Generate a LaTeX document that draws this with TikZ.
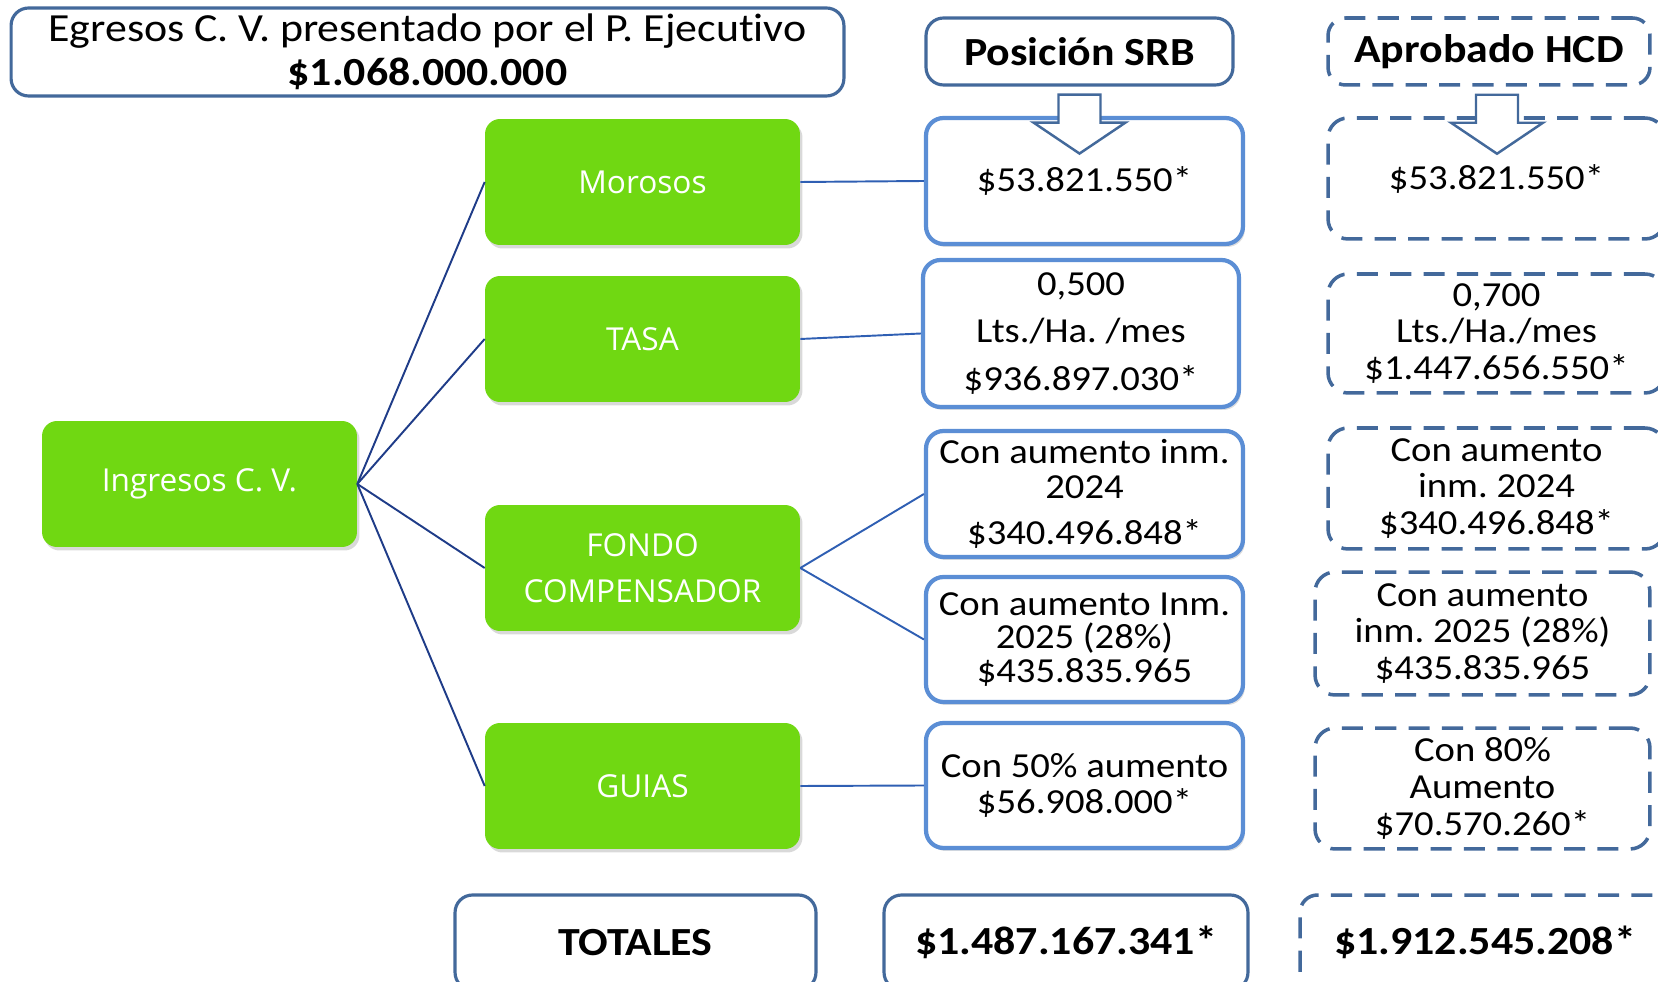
\documentclass[tikz,border=0pt]{standalone}
\usepackage{fontspec}
\setmainfont{Carlito}[FakeStretch=1.1, Ligatures=NoCommon]
\newfontfamily\rubrofont{Open Sans}
\usetikzlibrary{shadows,calc}

\definecolor{verde}{HTML}{70D812}
\definecolor{azul}{HTML}{43699B}
\definecolor{celeste}{HTML}{5B8ED5}
\definecolor{lineaosc}{HTML}{1F3C88}
\definecolor{linea}{HTML}{2F5FB3}

\begin{document}
\frenchspacing
\begin{tikzpicture}[x=0.02cm,y=-0.02cm,
    rubro/.style={fill=verde, rounded corners=0.3cm, text=white, align=center,
      font=\rubrofont\fontsize{18}{26}\selectfont, inner sep=0pt,
      minimum width=6.3cm, minimum height=2.52cm,
      drop shadow={opacity=0.3, shadow xshift=0.05cm, shadow yshift=-0.07cm}},
    srb/.style={draw=celeste, line width=2.4pt, fill=white, rounded corners=0.35cm,
      align=center, font=\fontsize{20}{20}\selectfont, inner sep=0pt,
      minimum width=6.34cm, minimum height=2.52cm,
      drop shadow={opacity=0.25, shadow xshift=0.04cm, shadow yshift=-0.06cm}},
    hcd/.style={draw=azul, line width=2pt, dash pattern=on 12pt off 7pt,
      rounded corners=0.4cm, align=center, font=\fontsize{20}{20}\selectfont,
      inner sep=0pt, minimum width=6.74cm, minimum height=2.42cm},
    titulo/.style={draw=azul, line width=1.8pt, rounded corners=0.35cm, fill=white,
      align=center, font=\bfseries\fontsize{22.7}{25}\selectfont, inner sep=0pt},
    rama/.style={draw=lineaosc, line width=1.1pt},
    enlace/.style={draw=linea, line width=1.1pt},
    flecha/.style={draw=azul, line width=1.4pt, fill=white, line join=miter}
  ]

    \useasboundingbox (0,0) rectangle (1658,982);
    \clip (0,0) rectangle (1658,982);

    % Titles
    \node[titulo, minimum width=16.66cm, minimum height=1.76cm] (egresos) at (427.5,52)
      {\mdseries Egresos C. V. presentado por el P. Ejecutivo\\ \$1.068.000.000};
    \node[titulo, minimum width=6.14cm, minimum height=1.34cm] (pos) at (1079.5,51.5) {Posición SRB};
    \node[titulo, dash pattern=on 12pt off 7pt, line width=2pt, fill=none, minimum width=6.44cm,
      minimum height=1.34cm] (apr) at (1489,51.5) {Aprobado HCD};

    % Income items
    \node[rubro] (ingresos) at (199.5,484) {Ingresos C. V.};
    \node[rubro] (morosos) at (642.5,182) {Morosos};
    \node[rubro] (tasa) at (642.5,339) {TASA};
    \node[rubro] (fondo) at (642.5,568) {FONDO\\COMPENSADOR};
    \node[rubro] (guias) at (642.5,786) {GUIAS};

    % Position SRB
    \node[srb] (srbmor) at (1084.5,181) {\$53.821.550*};
    \node[srb, minimum width=6.32cm, minimum height=2.94cm] (srbtasa) at (1081,333.5)
      {0,500\\[7pt] Lts./Ha. /mes\\[7pt] \$936.897.030*};
    \node[srb] (srbfa) at (1084.5,494) {Con aumento inm.\\[0pt] 2024\\[6pt] \$340.496.848*};
    \node[srb, minimum height=2.5cm] (srbfb) at (1084.5,639.5)
      {Con aumento Inm.\\[-1pt] 2025 (28\%)\\[-1pt] \$435.835.965};
    \node[srb, minimum height=2.5cm] (srbguias) at (1084.5,785.5)
      {Con 50\% aumento\\[0pt] \$56.908.000*};

    % Approved HCD
    \node[hcd] (hcdmor) at (1496.5,178.5) {\$53.821.550*};
    \node[hcd, minimum height=2.38cm] (hcdtasa) at (1496.5,333.5)
      {0,700\\[1pt] Lts./Ha./mes\\[1pt] \$1.447.656.550*};
    \node[hcd] (hcdfa) at (1496.5,488.5) {Con aumento\\[1pt] inm. 2024\\[1pt] \$340.496.848*};
    \node[hcd, minimum width=6.7cm, minimum height=2.46cm] (hcdfb) at (1482.5,633.5)
      {Con aumento\\[1pt] inm. 2025 (28\%)\\[1pt] \$435.835.965};
    \node[hcd, minimum width=6.7cm] (hcdguias) at (1482.5,788.5)
      {Con 80\%\\[1pt] Aumento\\[1pt] \$70.570.260*};

    % Totals
    \node[titulo, minimum width=7.22cm, minimum height=1.9cm] (totales) at (635.5,942.5) {TOTALES};
    \node[titulo, minimum width=7.28cm, minimum height=1.9cm] (srbtotal) at (1066,942.5) {\$1.487.167.341*};
    \node[titulo, dash pattern=on 12pt off 7pt, line width=2pt, fill=none, minimum width=7.4cm,
      minimum height=1.9cm] (hcdtotal) at (1485,942.5) {\$1.912.545.208*};

    % Branches
    \foreach \r in {morosos,tasa,fondo,guias}
      \draw[rama] (ingresos.east) -- (\r.west);
    \draw[enlace] (morosos.east) -- (srbmor.west);
    \draw[enlace] (tasa.east) -- (srbtasa.west);
    \draw[enlace] (fondo.east) -- (srbfa.west);
    \draw[enlace] (fondo.east) -- (srbfb.west);
    \draw[enlace] (guias.east) -- (srbguias.west);

    % Block arrows
    \draw[flecha, shift={(pos.south)}] (-21,8) -- (21,8) -- (21,36) -- (46,36) -- (0,67)
      -- (-46,36) -- (-21,36) -- cycle;
    \draw[flecha, shift={($(apr.south)+(8,0)$)}] (-21,8) -- (21,8) -- (21,36) -- (46,36) -- (0,67)
      -- (-46,36) -- (-21,36) -- cycle;
\end{tikzpicture}
\end{document}
